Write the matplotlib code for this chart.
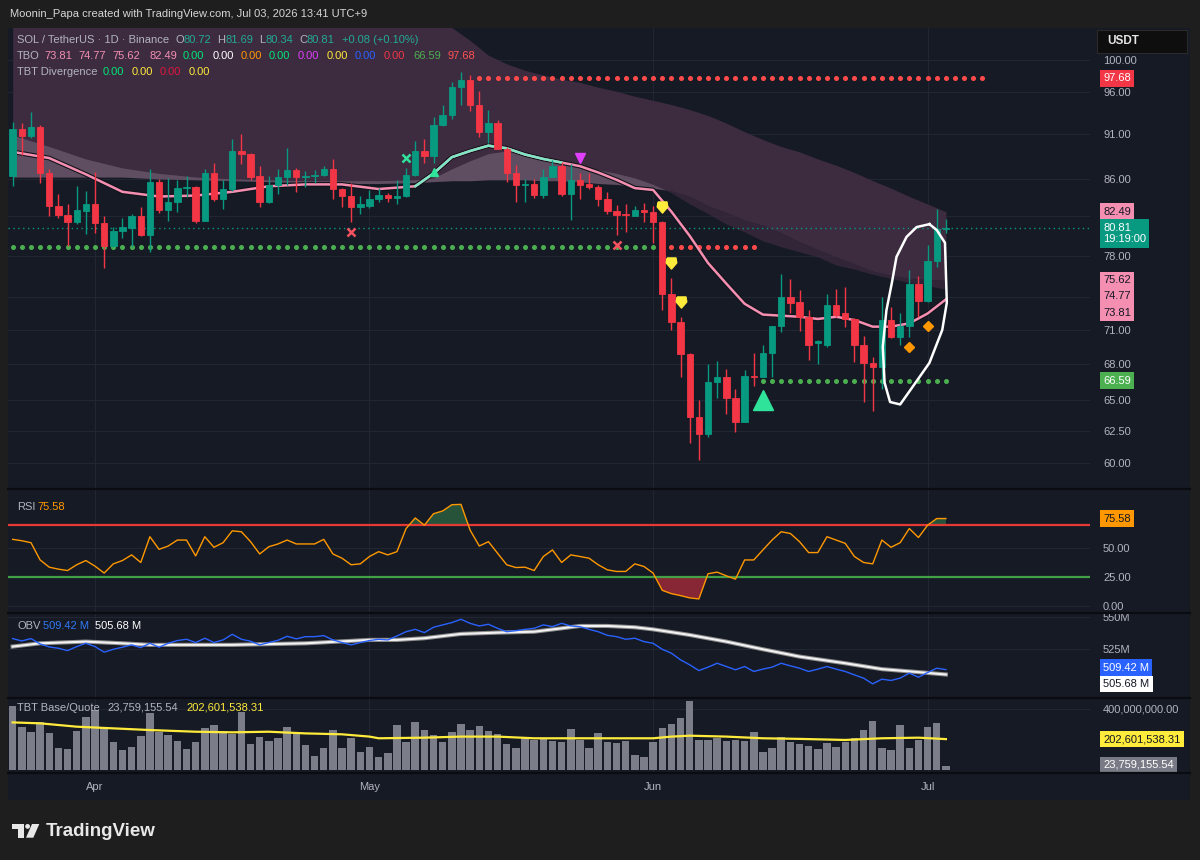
import numpy as np
import pandas as pd
import matplotlib
matplotlib.use("Agg")
import matplotlib.pyplot as plt
from matplotlib.patches import Rectangle, Polygon, Ellipse
from matplotlib.lines import Line2D
from matplotlib.ticker import NullLocator, NullFormatter

plt.rcParams['font.family'] = ['Liberation Sans', 'DejaVu Sans']

# ---- values: SOL / TetherUS 1D, Binance ----
dates = pd.date_range('2026-03-23', '2026-07-03', freq='D')

open_ = [86.3, 91.6, 90.8, 91.9, 86.6, 83.1, 82.1, 81.4, 82.6, 83.3,
         81.3, 79.0, 80.5, 80.8, 82.0, 80.1, 85.7, 82.7, 83.5, 85.0,
         85.1, 81.5, 86.6, 83.8, 84.9, 89.1, 88.8, 86.3, 83.5, 85.3,
         86.2, 87.0, 86.2, 86.3, 86.4, 87.1, 84.9, 84.1, 83.0, 83.1,
         83.8, 84.3, 83.9, 84.1, 86.4, 89.1, 88.5, 92.1, 93.3, 96.6,
         97.5, 94.5, 91.3, 92.3, 89.3, 86.6, 85.3, 85.4, 84.3, 86.2,
         87.4, 84.4, 85.9, 85.4, 85.1, 83.8, 82.6, 82.3, 82.0, 82.7,
         82.5, 81.4, 74.3, 71.7, 68.9, 63.6, 62.2, 66.5, 66.9, 65.1,
         63.2, 67.0, 66.9, 69.0, 71.4, 74.0, 73.6, 72.2, 69.8, 69.7,
         73.3, 72.5, 72.0, 69.7, 68.1, 67.7, 71.9, 70.4, 71.4, 75.3,
         73.7, 77.5, 80.72]
high = [92.4, 92.3, 93.6, 92.1, 87.1, 84.4, 83.3, 85.2, 84.7, 86.7,
        82.0, 80.9, 81.8, 82.3, 83.0, 87.1, 86.0, 86.1, 85.9, 86.3,
        85.2, 87.1, 87.8, 85.9, 90.5, 91.0, 88.9, 87.4, 86.3, 87.1,
        89.4, 87.2, 86.9, 87.0, 87.4, 88.2, 85.0, 85.6, 84.1, 84.8,
        85.0, 84.5, 85.9, 87.2, 90.2, 90.5, 93.0, 94.4, 97.2, 98.5,
        98.1, 96.1, 93.9, 92.7, 89.5, 87.5, 86.0, 86.0, 87.1, 88.1,
        87.9, 87.6, 86.6, 86.6, 85.3, 84.6, 83.2, 83.3, 83.1, 83.4,
        83.1, 81.5, 75.8, 72.2, 69.0, 65.0, 68.0, 68.3, 67.6, 65.9,
        67.5, 69.0, 69.7, 71.4, 76.2, 75.7, 74.7, 72.8, 70.1, 74.3,
        74.8, 75.0, 72.1, 70.5, 68.6, 74.0, 73.1, 72.5, 76.6, 76.0,
        79.1, 82.8, 81.69]
low = [85.2, 88.7, 90.6, 85.6, 82.0, 81.8, 79.0, 81.2, 80.2, 80.3,
       76.8, 78.9, 79.8, 78.9, 80.0, 78.4, 82.4, 81.5, 82.5, 84.0,
       81.3, 81.5, 83.6, 82.8, 84.7, 87.6, 85.9, 83.0, 83.4, 84.4,
       85.3, 84.6, 85.1, 85.6, 86.3, 83.8, 83.0, 81.4, 82.3, 82.9,
       83.5, 83.5, 83.3, 84.0, 86.3, 87.7, 87.7, 92.0, 92.8, 94.5,
       93.7, 90.7, 90.0, 89.3, 85.7, 83.5, 83.5, 83.9, 83.9, 86.2,
       84.2, 81.6, 83.8, 84.9, 83.1, 82.3, 80.1, 80.4, 82.0, 81.4,
       79.3, 72.8, 71.0, 66.9, 61.5, 60.2, 62.0, 65.1, 63.8, 62.4,
       63.2, 66.1, 66.9, 66.9, 70.8, 72.5, 70.9, 68.35, 68.0, 69.5,
       72.2, 71.3, 68.2, 64.8, 64.1, 65.9, 70.3, 69.7, 70.4, 72.2,
       73.6, 76.9, 80.34]
close = [91.6, 90.8, 91.9, 86.6, 83.1, 82.1, 81.4, 82.7, 83.3, 81.3,
         79.0, 80.5, 80.9, 82.0, 80.1, 85.7, 82.7, 83.5, 85.0, 85.1,
         81.5, 86.6, 83.8, 84.9, 89.1, 88.8, 86.2, 83.5, 85.3, 86.2,
         87.0, 86.2, 86.3, 86.4, 87.1, 84.9, 84.1, 83.0, 83.3, 83.8,
         84.3, 83.9, 84.1, 86.4, 89.1, 88.5, 92.1, 93.3, 96.6, 97.5,
         94.5, 91.3, 92.3, 89.3, 86.6, 85.3, 85.4, 84.3, 86.2, 87.4,
         84.4, 85.9, 85.3, 85.1, 83.8, 82.6, 82.2, 82.1, 82.7, 82.5,
         81.4, 74.3, 71.7, 68.9, 63.6, 62.2, 66.5, 66.9, 65.1, 63.2,
         67.0, 66.9, 69.0, 71.4, 74.0, 73.5, 72.2, 69.7, 70.0, 73.3,
         72.4, 72.0, 69.7, 68.1, 67.7, 71.9, 70.4, 71.4, 75.3, 73.7,
         77.5, 80.72, 80.81]

# TBT Base/Quote volume, millions
volume_m = [422, 284, 251, 317, 240, 147, 138, 256, 350, 394,
            273, 186, 131, 153, 225, 372, 247, 230, 190, 138,
            186, 273, 295, 256, 234, 378, 169, 219, 190, 212,
            280, 251, 164, 94, 142, 262, 142, 208, 116, 153,
            87, 109, 295, 186, 317, 262, 230, 186, 251, 299,
            262, 291, 256, 234, 169, 147, 219, 197, 204, 190,
            186, 269, 197, 142, 240, 186, 175, 190, 98, 87,
            186, 273, 300, 339, 452, 197, 197, 208, 190, 197,
            190, 247, 116, 142, 219, 182, 169, 160, 138, 175,
            153, 186, 212, 262, 321, 142, 131, 295, 142, 197,
            284, 306, 23.75915554]
vol_ma_idx = [0, 3, 7, 11, 15, 20, 24, 28, 32, 36, 39, 40, 45, 49, 53, 57,
              61, 65, 70, 72, 74, 78, 82, 86, 91, 95, 99, 102]
vol_ma_m = [312, 306, 284, 273, 262, 251, 247, 251, 240, 234, 219, 208, 212,
            219, 219, 208, 208, 208, 208, 219, 225, 219, 208, 204, 197, 208,
            212, 202.60153831]

rsi = [57.5, 56.3, 54.6, 39.6, 33.3, 31.6, 30.4, 35.4, 39.1, 34.2,
       28.2, 36.2, 39.1, 44.0, 37.4, 59.8, 48.8, 51.7, 56.9, 56.9,
       43.1, 59.8, 50.6, 54.6, 64.9, 64.1, 55.5, 44.8, 51.1, 53.5,
       56.9, 53.5, 53.5, 53.5, 57.5, 44.8, 41.1, 35.4, 36.2, 42.6,
       46.8, 44.0, 46.8, 66.9, 76.1, 69.8, 79.8, 82.2, 87.6, 87.9,
       65.5, 51.7, 55.5, 45.4, 35.4, 33.0, 33.3, 30.4, 42.6, 48.3,
       37.4, 44.0, 42.6, 41.1, 35.4, 31.0, 29.6, 29.6, 36.2, 33.9,
       28.2, 13.2, 10.3, 8.6, 6.6, 5.7, 27.6, 29.0, 25.8, 22.9,
       39.6, 39.6, 48.3, 56.9, 64.1, 62.6, 55.5, 46.0, 46.0, 59.8,
       56.9, 54.0, 42.6, 37.4, 36.2, 56.9, 50.6, 54.6, 66.9, 59.1,
       69.8, 75.6, 75.58]
rsi_upper, rsi_lower = 70, 25

obv_m = [533.2, 531.4, 533.2, 529.1, 526.8, 525.8, 524.0, 527.1, 529.6, 527.1,
         522.8, 525.0, 526.6, 528.4, 526.3, 529.6, 526.6, 529.6, 531.7, 532.7,
         530.2, 533.5, 530.2, 532.2, 536.5, 532.7, 531.2, 528.4, 530.2, 531.9,
         535.0, 533.0, 534.7, 534.7, 535.5, 532.2, 530.2, 528.4, 530.2, 531.7,
         532.7, 532.2, 535.2, 538.5, 540.3, 537.8, 541.9, 543.7, 545.5, 548.0,
         544.9, 542.9, 544.2, 541.1, 538.5, 539.3, 540.3, 541.1, 543.7, 542.4,
         544.9, 542.9, 542.4, 540.3, 538.5, 535.7, 534.7, 532.7, 533.5, 530.9,
         529.6, 525.0, 522.0, 516.9, 513.1, 508.7, 511.3, 514.3, 511.8, 509.3,
         511.8, 508.0, 509.8, 511.3, 514.3, 512.3, 510.5, 508.0, 509.8, 511.8,
         509.8, 508.0, 505.4, 502.9, 498.5, 502.1, 501.1, 502.9, 506.7, 503.6,
         507.2, 510.5, 509.42]
obv_ma_idx = [0, 3, 8, 12, 15, 24, 32, 39, 42, 45, 49, 53, 57, 60, 62, 65,
              68, 70, 74, 78, 82, 86, 91, 95, 99, 102]
obv_ma_m = [527.1, 529.6, 530.9, 529.6, 528.4, 528.4, 529.6, 532.2, 532.2,
            533.5, 536.8, 537.8, 538.5, 541.1, 542.9, 542.9, 541.9, 540.3,
            536.0, 530.9, 525.0, 519.4, 514.3, 509.8, 507.5, 505.68]

# TBO moving averages, sampled every few candles
band_idx = [0, 4, 8, 12, 16, 20, 24, 28, 32, 36, 40, 44, 46, 48, 50, 52, 54,
            56, 58, 60, 62, 64, 66, 68, 70, 72, 74, 76, 78, 80, 82, 84, 86,
            88, 90, 92, 94, 96, 98, 100, 102]
tbo_fast = [89.0, 88.3, 86.5, 84.6, 84.1, 84.2, 84.6, 85.2, 85.4, 85.4, 84.9,
            85.2, 86.6, 88.4, 89.1, 89.7, 89.4, 88.7, 88.2, 87.8, 87.4, 86.7,
            85.9, 85.0, 84.8, 82.5, 80.0, 77.3, 75.3, 73.4, 72.4, 72.3, 72.2,
            72.0, 72.2, 71.9, 71.3, 71.3, 71.6, 72.5, 73.81]
tbo_mid1 = [90.9, 89.6, 88.2, 87.2, 86.6, 86.2, 86.0, 85.9, 85.8, 85.8, 85.8,
            85.9, 86.1, 87.1, 88.0, 88.8, 89.1, 88.9, 88.4, 87.8, 87.3, 87.0,
            86.6, 86.1, 85.4, 84.5, 83.3, 82.3, 81.2, 80.4, 79.5, 78.9, 78.4,
            77.9, 77.1, 76.7, 76.2, 75.8, 75.4, 75.1, 74.77]
tbo_mid2 = [86.2, 86.2, 86.2, 86.2, 86.0, 85.9, 85.8, 85.7, 85.6, 85.5, 85.5,
            85.6, 85.7, 85.8, 85.8, 85.9, 85.9, 85.9, 85.8, 85.8, 85.7, 85.5,
            85.4, 85.2, 85.0, 84.7, 84.1, 83.1, 82.4, 81.6, 81.1, 80.3, 79.4,
            78.6, 77.9, 77.2, 76.5, 76.1, 75.8, 75.7, 75.62]
tbo_slow = [112, 111, 110, 109, 108.5, 108, 107, 106.5, 106, 106, 106,
            106, 105, 104.2, 102.5, 100.6, 99.5, 98.7, 98.1, 97.6, 97.2,
            96.6, 96.1, 95.5, 95.0, 94.5, 93.9, 93.2, 92.3, 91.3, 90.4,
            89.6, 89.0, 88.2, 87.5, 86.7, 85.8, 85.0, 84.1, 83.3, 82.49]
fast_bull_span = (44.8, 60.5)

resistance = 97.68
resistance_span = (51, 106)
old_support = 78.9
old_support_end, broken_end = 70, 81
new_support = 66.59

# signal markers (candle index, price)
sell_x = ([37, 66], [80.4, 79.1])
buy_x = ([43], [88.3])
small_up = ([46], [86.8])
top_down = ([62], [88.3])
warn = ([71, 72, 73], [83.0, 77.3, 73.6])
big_up = ([82], [65.0])
diamonds = ([98, 100], [69.5, 71.4])
loop_idx = [100.2, 101.0, 101.9, 102.1, 101.6, 100.2, 98.4, 97.0, 95.9, 95.3,
            95.1, 95.5, 96.1, 96.6, 97.7, 98.8, 100.2]
loop_px = [81.2, 80.6, 79.3, 73.5, 71.0, 68.1, 66.1, 64.6, 64.8, 66.4, 69.5,
           72.8, 75.4, 77.9, 79.9, 80.9, 81.2]

price_ticks = [60, 62.5, 65, 68, 71, 74, 78, 82, 86, 91, 96, 100]

# ---- style ----
BG = '#161a25'
FRAME = '#1e1e1e'
GRID = '#222633'
TXT = '#b2b5be'
UP = '#089981'
DN = '#f23645'
PINK = '#f48fb1'
MINT = '#7ee6c4'
SIG = '#2fe39a'

W, H = 1200, 860
fig = plt.figure(figsize=(W / 100, H / 100), dpi=100, facecolor=FRAME)


def frac_box(top, bottom, left=8, right=1090):
    return [left / W, 1 - bottom / H, (right - left) / W, (bottom - top) / H]


def px(x, y):
    return (x / W, 1 - y / H)


def money(v_m):
    return f'{round(v_m * 1e6, 2):,.2f}'


fig.patches.append(Rectangle(px(8, 800), 1182 / W, 772 / H, transform=fig.transFigure,
                             facecolor=BG, edgecolor='none', zorder=-5))

ax = fig.add_axes(frac_box(28, 489))
ax_rsi = fig.add_axes(frac_box(490, 612), sharex=ax)
ax_obv = fig.add_axes(frac_box(613, 697), sharex=ax)
ax_vol = fig.add_axes(frac_box(698, 772), sharex=ax)

x = np.arange(len(dates))
month_idx = np.where(dates.day == 1)[0]

for a in (ax, ax_rsi, ax_obv, ax_vol):
    a.set_facecolor(BG)
    for s in a.spines.values():
        s.set_visible(False)
    a.yaxis.tick_right()
    a.tick_params(axis='y', length=0, pad=9.4, labelcolor=TXT, labelsize=8)
    a.tick_params(axis='x', length=0, labelbottom=False)
    a.grid(axis='y', color=GRID, lw=0.8)
    a.set_axisbelow(True)
    for m in month_idx:
        a.axvline(m, color=GRID, lw=0.8, zorder=0)

ax.set_xlim(-0.51, 117.75)

# ---- price panel ----
ax.set_yscale('log')
ax.set_ylim(58.03, 104.14)
ax.set_yticks(price_ticks)
ax.set_yticklabels(['' if t in (74, 82) else f'{t:.2f}' for t in price_ticks])
ax.yaxis.set_minor_locator(NullLocator())
ax.yaxis.set_minor_formatter(NullFormatter())

bi = np.array(band_idx)
slow, mid1, mid2, fast = map(np.array, (tbo_slow, tbo_mid1, tbo_mid2, tbo_fast))
ax.fill_between(bi, slow, mid2, color='#3d2b40', lw=0, zorder=1)
ax.fill_between(bi, mid1, mid2, where=mid1 > mid2, interpolate=True,
                color='#8a7a8a', alpha=0.45, lw=0, zorder=2)
ax.fill_between(bi, mid1, mid2, where=mid1 <= mid2, interpolate=True,
                color='#3d2b40', alpha=0.7, lw=0, zorder=1)

ax.plot(bi, fast, color='#11131a', lw=3.4, zorder=3, solid_capstyle='round')
ax.plot(bi, fast, color=PINK, lw=1.8, zorder=3.1)
bull = (bi >= fast_bull_span[0] - 1) & (bi <= fast_bull_span[1] + 1)
ax.plot(bi[bull], fast[bull], color=MINT, lw=1.8, zorder=3.2)

o, h, l, c = map(np.array, (open_, high, low, close))
col = np.where(c >= o, UP, DN)
ax.vlines(x, l, h, color=col, lw=1, zorder=4)
ax.bar(x, np.abs(c - o), bottom=np.minimum(o, c), width=0.7, color=col,
       edgecolor=col, lw=0.6, zorder=5)

# level dots
r_idx = np.arange(resistance_span[0], resistance_span[1] + 1)
ax.plot(r_idx, np.full(len(r_idx), resistance), ls='none', marker='o', ms=2.6,
        color='#ff4a4a', zorder=3)
g_idx = np.arange(0, old_support_end + 1)
ax.plot(g_idx, np.full(len(g_idx), old_support), ls='none', marker='o', ms=2.6,
        color='#4caf50', zorder=3)
b_idx = np.arange(old_support_end + 1, broken_end + 1)
ax.plot(b_idx, np.full(len(b_idx), old_support), ls='none', marker='o', ms=2.6,
        color='#ff4a4a', zorder=3)
n_idx = np.arange(big_up[0][0], len(dates))
ax.plot(n_idx, np.full(len(n_idx), new_support), ls='none', marker='o', ms=2.6,
        color='#4caf50', zorder=3)
ax.axhline(close[-1], color=UP, ls=(0, (1, 2.5)), lw=1, zorder=3)

shield = [(-0.8, 1.0), (0.8, 1.0), (0.95, 0.1), (0, -1.0), (-0.95, 0.1), (-0.8, 1.0)]
ax.plot(*sell_x, ls='none', marker='x', ms=6, mew=1.8, color='#f7525f', zorder=6)
ax.plot(*buy_x, ls='none', marker='x', ms=6, mew=1.8, color=SIG, zorder=6)
ax.plot(*small_up, ls='none', marker='^', ms=6, color=SIG, zorder=6)
ax.plot(*top_down, ls='none', marker='v', ms=7, color='#e040fb', zorder=6)
ax.plot(*warn, ls='none', marker=shield, ms=8, color='#ffeb3b', zorder=6)
ax.plot(*big_up, ls='none', marker='^', ms=14, color=SIG, zorder=6)
ax.plot(*diamonds, ls='none', marker='D', ms=5, color='#ff9800', zorder=6)
ax.plot(loop_idx, loop_px, color='white', lw=1.8, zorder=7)


def tag(a, y, text, fc, tc, dy=0.0):
    a.annotate(text, xy=(1, y), xycoords=('axes fraction', 'data'),
               xytext=(9.4, dy), textcoords='offset points', va='center',
               ha='left', fontsize=8, color=tc, zorder=10, annotation_clip=False,
               bbox=dict(boxstyle='square,pad=0.3', fc=fc, ec='none'))


tag(ax, resistance, f'{resistance:.2f}', '#f23645', 'white')
tag(ax, tbo_slow[-1], f'{tbo_slow[-1]:.2f}', PINK, '#131722')
tag(ax, close[-1], f'{close[-1]:.2f}\n19:19:00', UP, 'white', dy=-4)
tag(ax, tbo_mid2[-1], f'{tbo_mid2[-1]:.2f}', PINK, '#131722')
tag(ax, tbo_mid1[-1], f'{tbo_mid1[-1]:.2f}', PINK, '#131722', dy=-4.8)
tag(ax, tbo_fast[-1], f'{tbo_fast[-1]:.2f}', PINK, '#131722', dy=-9.6)
tag(ax, new_support, f'{new_support:.2f}', '#4caf50', 'white')

# ---- RSI ----
r = np.array(rsi)
ax_rsi.set_ylim(-5.65, 100.4)
ax_rsi.set_yticks([0, 25, 50], ['0.00', '25.00', '50.00'])
ax_rsi.axhline(rsi_upper, color='#e53935', lw=1.6, zorder=2)
ax_rsi.axhline(rsi_lower, color='#43a047', lw=1.6, zorder=2)
ax_rsi.fill_between(x, r, rsi_upper, where=r > rsi_upper, interpolate=True,
                    color='#3f9a56', alpha=0.45, lw=0, zorder=1)
ax_rsi.fill_between(x, r, rsi_lower, where=r < rsi_lower, interpolate=True,
                    color='#d32f3f', alpha=0.6, lw=0, zorder=1)
ax_rsi.plot(x, r, color='#ff9800', lw=1, zorder=3)
tag(ax_rsi, rsi[-1], f'{rsi[-1]:.2f}', '#ff9800', '#131722')

# ---- OBV ----
ax_obv.set_ylim(488.42, 552.84)
ax_obv.set_yticks([525, 550], ['525M', '550M'])
ax_obv.plot(obv_ma_idx, obv_ma_m, color='#8d8d8d', lw=3.0, zorder=2)
ax_obv.plot(obv_ma_idx, obv_ma_m, color='#f2f2f2', lw=1.5, zorder=2.1)
ax_obv.plot(x, obv_m, color='#2962ff', lw=1, zorder=3)
tag(ax_obv, obv_m[-1], f'{obv_m[-1]:.2f} M', '#2962ff', 'white', dy=1.5)
tag(ax_obv, obv_ma_m[-1], f'{obv_ma_m[-1]:.2f} M', '#ffffff', '#131722', dy=-6.8)

# ---- volume ----
ax_vol.set_ylim(-13.1, 472.1)
ax_vol.set_yticks([400], [money(400)])
ax_vol.bar(x, volume_m, width=0.82, color='#7b7e89', lw=0, zorder=2)
ax_vol.plot(vol_ma_idx, vol_ma_m, color='#ffeb3b', lw=1.6, zorder=3)
tag(ax_vol, vol_ma_m[-1], money(vol_ma_m[-1]), '#ffeb3b', '#131722')
tag(ax_vol, volume_m[-1], money(volume_m[-1]), '#787b86', 'white', dy=1)
ax_vol.set_xticks(month_idx, [d.strftime('%b') for d in dates[month_idx]])
ax_vol.tick_params(axis='x', labelbottom=True, pad=7, labelcolor=TXT, labelsize=8)

# ---- separators, legends, header ----
for yy in (489.5, 612.5, 697.5, 772.5):
    fig.add_artist(Line2D([8 / W, 1190 / W], [1 - yy / H] * 2, color='#0b0c11', lw=1.6))


def legend(y, pieces, size=8):
    for xx, s, cl in pieces:
        fig.text(xx / W, 1 - y / H, s, color=cl, fontsize=size, va='center', ha='left')


VAL = '#22ab94'
legend(14, [(10, 'Moonin_Papa created with TradingView.com, Jul 03, 2026 13:41 UTC+9', '#d6d6d6')])
legend(40, [(17, 'SOL / TetherUS · 1D · Binance', TXT), (175, 'O', TXT), (183, f'{open_[-1]:.2f}', VAL),
            (217, 'H', TXT), (225, f'{high[-1]:.2f}', VAL), (259, 'L', TXT), (266, f'{low[-1]:.2f}', VAL),
            (299, 'C', TXT), (306.5, f'{close[-1]:.2f}', VAL), (342, '+0.08 (+0.10%)', VAL)])
legend(56, [(17, 'TBO', TXT), (44, f'{tbo_fast[-1]:.2f}', PINK), (78, f'{tbo_mid1[-1]:.2f}', PINK),
            (112, f'{tbo_mid2[-1]:.2f}', PINK), (149, f'{tbo_slow[-1]:.2f}', PINK),
            (183, '0.00', '#00e676'), (212.5, '0.00', '#ffffff'),
            (240.5, '0.00', '#ff9800'), (269, '0.00', '#00e676'), (297.5, '0.00', '#e040fb'),
            (326.5, '0.00', '#ffeb3b'), (355, '0.00', '#2962ff'), (384, '0.00', '#f23645'),
            (413, f'{new_support:.2f}', '#4caf50'), (448, f'{resistance:.2f}', '#ff5252')])
legend(72, [(17, 'TBT Divergence', TXT), (103, '0.00', '#00e676'), (131.5, '0.00', '#ffeb3b'),
            (160, '0.00', '#e0173d'), (189, '0.00', '#ffeb3b')])
legend(507, [(17, 'RSI', TXT), (37, f'{rsi[-1]:.2f}', '#ff9800')])
legend(626, [(17, 'OBV', TXT), (43, f'{obv_m[-1]:.2f} M', '#3179f5'),
             (95, f'{obv_ma_m[-1]:.2f} M', '#ffffff')])
legend(708, [(17, 'TBT Base/Quote', TXT), (107, money(volume_m[-1]), TXT),
             (186, money(vol_ma_m[-1]), '#ffeb3b')])

# currency box
fig.patches.append(Rectangle(px(1097, 53), 90 / W, 23 / H, transform=fig.transFigure,
                             facecolor='#0e0e0e', edgecolor='#2a2a2a', lw=0.8, zorder=4))
fig.text(1107 / W, 1 - 41.5 / H, 'USDT', color='#e6e6e6', fontsize=8.5,
         fontweight='bold', va='center', zorder=5)

# TradingView mark
LOGO = '#e8e8e8'
fig.patches.append(Polygon([px(12, 824), px(23.5, 824), px(23.5, 837.7), px(17.5, 837.7),
                            px(17.5, 829), px(12, 829)], closed=True, transform=fig.transFigure,
                           facecolor=LOGO, edgecolor='none'))
fig.patches.append(Ellipse(px(27.6, 826.4), 4.8 / W, 4.8 / H, transform=fig.transFigure,
                           facecolor=LOGO, edgecolor='none'))
fig.patches.append(Polygon([px(32, 824), px(39.3, 824), px(33.3, 837.7), px(26, 837.7)],
                           closed=True, transform=fig.transFigure, facecolor=LOGO,
                           edgecolor='none'))
fig.text(46 / W, 1 - 831 / H, 'TradingView', color=LOGO, fontsize=13.5,
         fontweight='bold', va='center')

fig.savefig('out.png', dpi=100, facecolor=FRAME)
